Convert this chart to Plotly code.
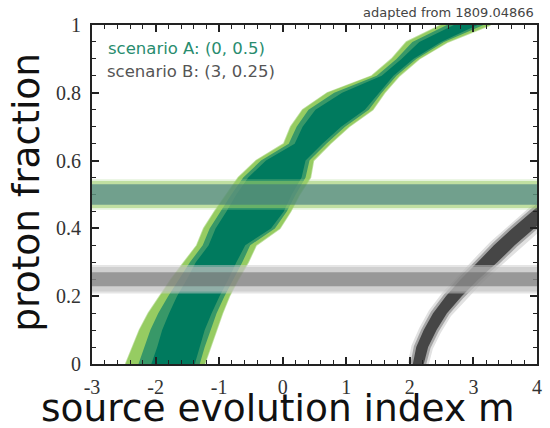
import plotly.graph_objects as go

# ---------------- data ----------------
# Scenario A contour bands (proton fraction levels and m boundaries)
yA = [0, .05, .1, .15, .2, .25, .3, .35, .4, .45, .5, .55, .6, .65, .7, .75, .8, .85, .9, .95, 1.0]
A_light_left = [-2.471, -2.362, -2.254, -2.114, -1.942, -1.756, -1.554, -1.351, -1.243, -1.072, -0.885,
                -0.698, -0.418, 0.017, 0.126, 0.313, 0.701, 1.401, 1.712, 1.946, 2.490]
A_light_right = [-1.227, -1.134, -1.040, -0.947, -0.838, -0.698, -0.543, -0.418, -0.045, 0.126, 0.266,
                 0.437, 0.484, 0.748, 1.044, 1.417, 1.603, 1.837, 2.148, 2.599, 3.267]
A_mid_left = [-2.269, -2.176, -2.082, -1.958, -1.802, -1.631, -1.460, -1.258, -1.149, -0.978, -0.807,
              -0.621, -0.341, 0.095, 0.219, 0.406, 0.810, 1.479, 1.790, 2.039, 2.583]
A_mid_right = [-1.305, -1.227, -1.134, -1.040, -0.916, -0.776, -0.636, -0.512, -0.123, 0.064, 0.204,
               0.359, 0.421, 0.686, 0.981, 1.355, 1.557, 1.790, 2.101, 2.536, 3.159]
A_dark_left = [-2.067, -1.974, -1.896, -1.787, -1.663, -1.507, -1.367, -1.165, -1.056, -0.885, -0.729,
               -0.543, -0.263, 0.188, 0.313, 0.515, 0.935, 1.557, 1.868, 2.148, 2.692]
A_dark_right = [-1.383, -1.305, -1.227, -1.118, -0.994, -0.854, -0.729, -0.589, -0.185, 0.017, 0.142,
                0.297, 0.359, 0.624, 0.919, 1.292, 1.510, 1.743, 2.054, 2.490, 3.065]

# Scenario B contour band
yB = [0, .05, .1, .15, .2, .25, .3, .35, .4, .45, .5]
B_left = [2.047, 2.101, 2.218, 2.365, 2.567, 2.801, 3.065, 3.322, 3.610, 3.921, 4.232]
B_right = [2.218, 2.288, 2.420, 2.583, 2.816, 3.081, 3.376, 3.649, 3.952, 4.263, 4.574]

# injected scenarios
scenario_labels = ["scenario A: (0, 0.5)", "scenario B: (3, 0.25)"]
scenario_m = [0, 3]
scenario_fp = [0.5, 0.25]
fp_err_core = [0.03, 0.021]
fp_err_outer = [0.04, 0.036]

x_tick_vals = [-3, -2, -1, 0, 1, 2, 3, 4]
x_tick_text = ["-3", "-2", "-1", "0", "1", "2", "3", "4"]
y_tick_vals = [0, 0.2, 0.4, 0.6, 0.8, 1.0]
y_tick_text = ["0", "0.2", "0.4", "0.6", "0.8", "1"]

XMIN, XMAX = -3, 4

# ---------------- figure ----------------
fig = go.Figure()


def band(left, right, ys, color, lw=0, lcolor=None):
    xs = list(left) + list(reversed(right))
    yy = list(ys) + list(reversed(ys))
    fig.add_trace(go.Scatter(
        x=xs + [xs[0]], y=yy + [yy[0]], mode="lines", fill="toself",
        fillcolor=color, line=dict(width=lw, color=lcolor or color),
        hoverinfo="skip", showlegend=False))


# scenario A: light, medium, dark
band(A_light_left, A_light_right, yA, "rgb(150,204,98)", lw=1.5, lcolor="rgba(150,204,98,0.6)")
band(A_mid_left, A_mid_right, yA, "rgb(56,152,104)")
band(A_dark_left, A_dark_right, yA, "rgb(0,122,94)")

# scenario B: blurred dark gray band
band(B_left, B_right, yB, "rgb(225,225,225)", lw=10, lcolor="rgb(225,225,225)")
band(B_left, B_right, yB, "rgb(165,165,165)", lw=5, lcolor="rgb(165,165,165)")
band(B_left, B_right, yB, "rgb(70,70,70)")

# horizontal bands for injected proton fractions
shapes = []
# A (green)
cA = scenario_fp[0]
shapes.append(dict(type="rect", xref="x", yref="y", x0=XMIN, x1=XMAX,
                   y0=cA - fp_err_outer[0] - 0.005, y1=cA + fp_err_outer[0] + 0.005,
                   fillcolor="rgb(170,214,140)", opacity=0.3, line=dict(width=0), layer="above"))
shapes.append(dict(type="rect", xref="x", yref="y", x0=XMIN, x1=XMAX,
                   y0=cA - fp_err_outer[0], y1=cA + fp_err_outer[0],
                   fillcolor="rgb(156,204,101)", opacity=0.5, line=dict(width=0), layer="above"))
shapes.append(dict(type="rect", xref="x", yref="y", x0=XMIN, x1=XMAX,
                   y0=cA - fp_err_core[0], y1=cA + fp_err_core[0],
                   fillcolor="rgb(60,119,128)", opacity=0.6, line=dict(width=0), layer="above"))
# B (gray)
cB = scenario_fp[1]
shapes.append(dict(type="rect", xref="x", yref="y", x0=XMIN, x1=XMAX,
                   y0=cB - fp_err_outer[1] - 0.006, y1=cB + fp_err_outer[1] + 0.006,
                   fillcolor="rgb(204,204,204)", opacity=0.5, line=dict(width=0), layer="above"))
shapes.append(dict(type="rect", xref="x", yref="y", x0=XMIN, x1=XMAX,
                   y0=cB - fp_err_outer[1], y1=cB + fp_err_outer[1],
                   fillcolor="rgb(187,187,187)", opacity=0.5, line=dict(width=0), layer="above"))
shapes.append(dict(type="rect", xref="x", yref="y", x0=XMIN, x1=XMAX,
                   y0=cB - fp_err_core[1], y1=cB + fp_err_core[1],
                   fillcolor="rgb(85,85,85)", opacity=0.45, line=dict(width=0), layer="above"))

axis_common = dict(
    showgrid=False, zeroline=False, showline=True, linecolor="#222", linewidth=2,
    mirror="ticks", ticks="inside", ticklen=7, tickwidth=1.5, tickcolor="#222",
    tickfont=dict(family="Liberation Serif", size=20, color="#333"),
)

fig.update_layout(
    width=550, height=428,
    margin=dict(l=92, r=8, t=25, b=64),
    paper_bgcolor="white", plot_bgcolor="white",
    shapes=shapes,
    hovermode=False,
    xaxis=dict(range=[XMIN, XMAX], tickvals=x_tick_vals, ticktext=x_tick_text,
               minor=dict(ticks="inside", dtick=0.2, tick0=-3, ticklen=4, tickwidth=1.2, tickcolor="#222"),
               ticklabelstandoff=4, **axis_common),
    yaxis=dict(range=[0, 1], tickvals=y_tick_vals, ticktext=y_tick_text,
               minor=dict(ticks="inside", dtick=0.05, tick0=0, ticklen=4, tickwidth=1.2, tickcolor="#222"),
               ticklabelstandoff=5, **axis_common),
    annotations=[
        dict(text="proton fraction", xref="paper", yref="paper", x=-0.147, y=0.507,
             textangle=-90, showarrow=False, xanchor="center", yanchor="middle",
             font=dict(family="DejaVu Sans", size=37.5, color="#111")),
        dict(text="source evolution index m", xref="paper", yref="paper", x=0.418, y=-0.13,
             showarrow=False, xanchor="center", yanchor="middle",
             font=dict(family="DejaVu Sans", size=37.5, color="#111")),
        dict(text=scenario_labels[0], xref="paper", yref="paper", x=0.031, y=0.932,
             showarrow=False, xanchor="left", yanchor="middle",
             font=dict(family="DejaVu Sans", size=16.5, color="rgb(40,140,110)")),
        dict(text=scenario_labels[1], xref="paper", yref="paper", x=0.029, y=0.864,
             showarrow=False, xanchor="left", yanchor="middle",
             font=dict(family="DejaVu Sans", size=16.5, color="#555")),
        dict(text="adapted from 1809.04866", xref="paper", yref="paper", x=0.998, y=1.038,
             showarrow=False, xanchor="right", yanchor="middle",
             font=dict(family="DejaVu Sans", size=13, color="#444")),
    ],
)

fig.write_html("out.html", config={"displayModeBar": False},
               post_script="document.body.style.margin='0px';")
